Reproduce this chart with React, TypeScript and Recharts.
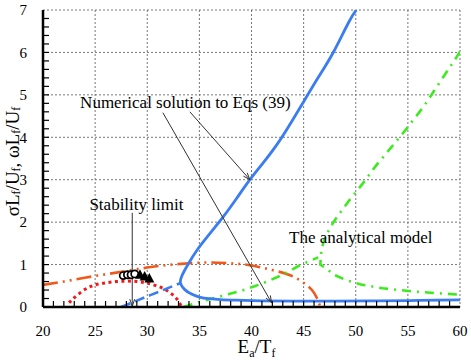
import {
  CartesianGrid,
  ComposedChart,
  Label,
  Line,
  ReferenceDot,
  ReferenceLine,
  Scatter,
  XAxis,
  YAxis,
} from "recharts";

const xTicks = [20, 25, 30, 35, 40, 45, 50, 55, 60];
const yTicks = [0, 1, 2, 3, 4, 5, 6, 7];
// positions of the small inward tick marks along the two axes
const xMinorTicks = [
  21, 22, 23, 24, 25, 26, 27, 28, 29, 30, 31, 32, 33, 34, 35, 36, 37, 38, 39, 40,
  41, 42, 43, 44, 45, 46, 47, 48, 49, 50, 51, 52, 53, 54, 55, 56, 57, 58, 59,
];
const yMinorTicks = [
  0.2, 0.4, 0.6, 0.8, 1, 1.2, 1.4, 1.6, 1.8, 2, 2.2, 2.4, 2.6, 2.8, 3, 3.2, 3.4, 3.6,
  3.8, 4, 4.2, 4.4, 4.6, 4.8, 5, 5.2, 5.4, 5.6, 5.8, 6, 6.2, 6.4, 6.6, 6.8,
];

// numerical solution (solid blue), traced from the lower right end round the bend
const numerical = [
  { x: 60, y: 0.17 }, { x: 56, y: 0.155 }, { x: 52, y: 0.145 }, { x: 48, y: 0.14 },
  { x: 44, y: 0.14 }, { x: 41, y: 0.145 }, { x: 38.5, y: 0.16 }, { x: 37, y: 0.175 },
  { x: 36, y: 0.195 }, { x: 35, y: 0.235 }, { x: 34.2, y: 0.31 }, { x: 33.6, y: 0.41 },
  { x: 33.2, y: 0.55 }, { x: 33.3, y: 0.72 }, { x: 33.9, y: 1.0 }, { x: 34.8, y: 1.35 },
  { x: 36, y: 1.73 }, { x: 37.3, y: 2.13 }, { x: 38.6, y: 2.57 }, { x: 39.85, y: 3.0 },
  { x: 41.1, y: 3.39 }, { x: 42.5, y: 3.85 }, { x: 43.8, y: 4.35 }, { x: 45.1, y: 4.88 },
  { x: 46.5, y: 5.45 }, { x: 47.8, y: 5.98 }, { x: 49.3, y: 6.7 }, { x: 50.05, y: 7.0 },
];
const numericalDashed = [
  { x: 27.5, y: 0 }, { x: 30.3, y: 0.28 }, { x: 33.15, y: 0.56 },
];
const analyticalOrange = [
  { x: 20, y: 0.52 }, { x: 22, y: 0.6 }, { x: 24, y: 0.69 }, { x: 26, y: 0.77 },
  { x: 28, y: 0.85 }, { x: 30, y: 0.93 }, { x: 32, y: 0.99 }, { x: 34, y: 1.03 },
  { x: 36, y: 1.05 }, { x: 38, y: 1.03 }, { x: 40, y: 0.98 }, { x: 42, y: 0.87 },
  { x: 43.7, y: 0.75 }, { x: 45, y: 0.57 }, { x: 45.8, y: 0.4 }, { x: 46.3, y: 0.2 },
  { x: 46.6, y: 0 },
];
const stabilityRed = [
  { x: 22.5, y: 0.1 }, { x: 23, y: 0.22 }, { x: 24, y: 0.41 }, { x: 25, y: 0.52 },
  { x: 26, y: 0.57 }, { x: 27, y: 0.6 }, { x: 28, y: 0.61 }, { x: 29, y: 0.6 },
  { x: 30, y: 0.56 }, { x: 31, y: 0.49 }, { x: 32, y: 0.37 }, { x: 32.8, y: 0.2 },
  { x: 33.3, y: 0 },
];
const greenLower = [
  { x: 33.5, y: 0 }, { x: 35, y: 0.12 }, { x: 37, y: 0.25 }, { x: 39, y: 0.38 },
  { x: 41, y: 0.55 }, { x: 43, y: 0.76 }, { x: 44.6, y: 0.98 }, { x: 46.4, y: 1.17 },
];
const greenUpper = [
  { x: 60, y: 6.02 }, { x: 59.7, y: 5.9 }, { x: 58.1, y: 5.31 }, { x: 56.5, y: 4.72 },
  { x: 54.9, y: 4.21 }, { x: 53.6, y: 3.82 }, { x: 52, y: 3.35 }, { x: 50.7, y: 2.92 },
  { x: 49.4, y: 2.52 }, { x: 48.5, y: 2.22 }, { x: 48, y: 2.05 }, { x: 47.5, y: 1.85 },
  { x: 47, y: 1.6 }, { x: 46.7, y: 1.35 }, { x: 46.6, y: 1.0 }, { x: 47.2, y: 0.9 },
  { x: 48, y: 0.75 }, { x: 49.1, y: 0.63 }, { x: 50.5, y: 0.53 }, { x: 52.6, y: 0.44 },
  { x: 55.8, y: 0.36 }, { x: 60, y: 0.29 },
];
const circlePoints = [
  { x: 27.7, y: 0.74 }, { x: 28.1, y: 0.76 }, { x: 28.45, y: 0.76 }, { x: 28.8, y: 0.78 },
];
const trianglePoints = [
  { x: 29.3, y: 0.76 }, { x: 29.75, y: 0.72 }, { x: 30.2, y: 0.67 },
];

const xTickPoints = xMinorTicks.map((v) => ({ x: v, y: 0 }));
const yTickPoints = yMinorTicks.map((v) => ({ x: 20, y: v }));

const serif = "Liberation Serif";

const Arrow = (props: any) => {
  const { x1, y1, x2, y2 } = props;
  const a = Math.atan2(y2 - y1, x2 - x1);
  const len = 7;
  const w = 2.5;
  const bx = x2 - len * Math.cos(a);
  const by = y2 - len * Math.sin(a);
  const pts = `${bx + w * Math.sin(a)},${by - w * Math.cos(a)} ${x2},${y2} ${bx - w * Math.sin(a)},${by + w * Math.cos(a)}`;
  return (
    <g>
      <line x1={x1} y1={y1} x2={x2} y2={y2} stroke="#333" strokeWidth={1} />
      <polyline points={pts} fill="none" stroke="#333" strokeWidth={1} />
    </g>
  );
};

const UpTick = (props: any) => (
  <line x1={props.cx} y1={props.cy} x2={props.cx} y2={props.cy - 6} stroke="#000" strokeWidth={1.2} />
);
const RightTick = (props: any) => (
  <line x1={props.cx} y1={props.cy} x2={props.cx + 6} y2={props.cy} stroke="#000" strokeWidth={1.2} />
);

const OpenCircle = (props: any) => (
  <circle cx={props.cx} cy={props.cy} r={3.6} fill="#fff" stroke="#000" strokeWidth={1.7} />
);

const FilledTriangle = (props: any) => {
  const { cx, cy } = props;
  return <polygon points={`${cx},${cy - 5.5} ${cx - 5},${cy + 4} ${cx + 5},${cy + 4}`} fill="#000" />;
};

const XTick = (props: any) => (
  <text x={props.x} y={props.y} dy="0.71em" textAnchor="middle" fontSize={15} fontFamily={serif} fill="#000">
    {props.payload.value}
  </text>
);

const YTick = (props: any) => (
  <text x={props.x} y={props.y} dy="0.355em" textAnchor="end" fontSize={15} fontFamily={serif} fill="#000">
    {props.payload.value}
  </text>
);

const YTitle = (props: any) => {
  const { x, y, height } = props.viewBox;
  const cx = x + 12;
  const cy = y + height / 2 + 3;
  return (
    <text
      x={cx}
      y={cy}
      transform={`rotate(-90, ${cx}, ${cy})`}
      textAnchor="middle"
      dominantBaseline="central"
      fontSize={19}
      fontFamily={serif}
      fill="#000"
    >
      σL<tspan fontSize={12} dy={4}>f</tspan>
      <tspan dy={-4}>/U</tspan>
      <tspan fontSize={12} dy={4}>f</tspan>
      <tspan dy={-4}>, ωL</tspan>
      <tspan fontSize={12} dy={4}>f</tspan>
      <tspan dy={-4}>/U</tspan>
      <tspan fontSize={12} dy={4}>f</tspan>
    </text>
  );
};

const XTitle = (props: any) => {
  const { x, y, width } = props.viewBox;
  return (
    <text x={x + width / 2 + 5} y={y + 46} textAnchor="middle" fontSize={19} fontFamily={serif} fill="#000">
      E<tspan fontSize={12} dy={4}>a</tspan>
      <tspan dy={-4}>/T</tspan>
      <tspan fontSize={12} dy={4}>f</tspan>
    </text>
  );
};

const note = (text: string) => (props: any) => (
  <text
    x={props.viewBox.x}
    y={props.viewBox.y}
    textAnchor="middle"
    dominantBaseline="central"
    fontSize={17}
    fontFamily={serif}
    fill="#000"
  >
    {text}
  </text>
);

export default function App() {
  return (
    <div style={{ position: "absolute", left: 0, top: 0, fontFamily: serif }}>
      <ComposedChart width={471} height={360} margin={{ top: 10, right: 11, bottom: 0, left: 0 }}>
        <CartesianGrid stroke="#777" strokeDasharray="2 2" />
        <XAxis
          dataKey="x"
          type="number"
          domain={[20, 60]}
          ticks={xTicks}
          interval={0}
          allowDataOverflow
          height={53}
          tickSize={0}
          tickMargin={18}
          tickLine={false}
          axisLine={{ stroke: "#000", strokeWidth: 2.5 }}
          tick={XTick}
        >
          <Label content={XTitle} />
        </XAxis>
        <XAxis
          xAxisId="top"
          orientation="top"
          dataKey="x"
          type="number"
          domain={[20, 60]}
          allowDataOverflow
          height={0}
          tick={false}
          tickLine={false}
          axisLine={{ stroke: "#222", strokeWidth: 1.2 }}
        />
        <YAxis
          dataKey="y"
          type="number"
          domain={[0, 7]}
          ticks={yTicks}
          interval={0}
          allowDataOverflow
          width={43}
          tickSize={0}
          tickMargin={16}
          tickLine={false}
          axisLine={{ stroke: "#000", strokeWidth: 2.5 }}
          tick={YTick}
        >
          <Label content={YTitle} />
        </YAxis>
        <YAxis
          yAxisId="right"
          orientation="right"
          type="number"
          domain={[0, 7]}
          allowDataOverflow
          width={0}
          tick={false}
          tickLine={false}
          axisLine={{ stroke: "#444", strokeWidth: 1.5 }}
        />

        <Scatter data={xTickPoints} dataKey="y" shape={UpTick} isAnimationActive={false} />
        <Scatter data={yTickPoints} dataKey="y" shape={RightTick} isAnimationActive={false} />

        <Line
          data={stabilityRed}
          dataKey="y"
          type="natural"
          stroke="#F01818"
          strokeWidth={3}
          strokeDasharray="3 3.5"
          dot={false}
          activeDot={false}
          isAnimationActive={false}
        />
        <Line
          data={analyticalOrange}
          dataKey="y"
          type="natural"
          stroke="#EE5A1C"
          strokeWidth={2.6}
          strokeDasharray="15 5 2 5 2 5"
          dot={false}
          activeDot={false}
          isAnimationActive={false}
        />
        <Line
          data={greenLower}
          dataKey="y"
          type="linear"
          stroke="#3CEB1E"
          strokeWidth={2.6}
          strokeDasharray="9 6 2 6"
          dot={false}
          activeDot={false}
          isAnimationActive={false}
        />
        <Line
          data={greenUpper}
          dataKey="y"
          type="linear"
          stroke="#3CEB1E"
          strokeWidth={2.6}
          strokeDasharray="9 6 2 6"
          dot={false}
          activeDot={false}
          isAnimationActive={false}
        />
        <Line
          data={numericalDashed}
          dataKey="y"
          type="linear"
          stroke="#3A7DF0"
          strokeWidth={2.6}
          strokeDasharray="10 5"
          dot={false}
          activeDot={false}
          isAnimationActive={false}
        />
        <Line
          data={numerical}
          dataKey="y"
          type="natural"
          stroke="#3A7DF0"
          strokeWidth={2.8}
          dot={false}
          activeDot={false}
          isAnimationActive={false}
        />
        <Scatter data={circlePoints} dataKey="y" shape={OpenCircle} isAnimationActive={false} />
        <Scatter data={trianglePoints} dataKey="y" shape={FilledTriangle} isAnimationActive={false} />

        <ReferenceLine
          segment={[{ x: 34.09, y: 4.6 }, { x: 39.85, y: 3.0 }]}
          shape={Arrow}
          ifOverflow="visible"
        />
        <ReferenceLine
          segment={[{ x: 31.5, y: 4.58 }, { x: 41.93, y: 0.1 }]}
          shape={Arrow}
          ifOverflow="visible"
        />
        <ReferenceLine
          segment={[{ x: 28.56, y: 2.22 }, { x: 28.56, y: 0.02 }]}
          shape={Arrow}
          ifOverflow="visible"
        />
        <ReferenceDot x={33.66} y={4.81} r={0} fill="none" stroke="none" ifOverflow="visible">
          <Label content={note("Numerical solution to Eqs (39)")} />
        </ReferenceDot>
        <ReferenceDot x={28.96} y={2.41} r={0} fill="none" stroke="none" ifOverflow="visible">
          <Label content={note("Stability limit")} />
        </ReferenceDot>
        <ReferenceDot x={50.49} y={1.63} r={0} fill="none" stroke="none" ifOverflow="visible">
          <Label content={note("The analytical model")} />
        </ReferenceDot>
      </ComposedChart>
    </div>
  );
}
